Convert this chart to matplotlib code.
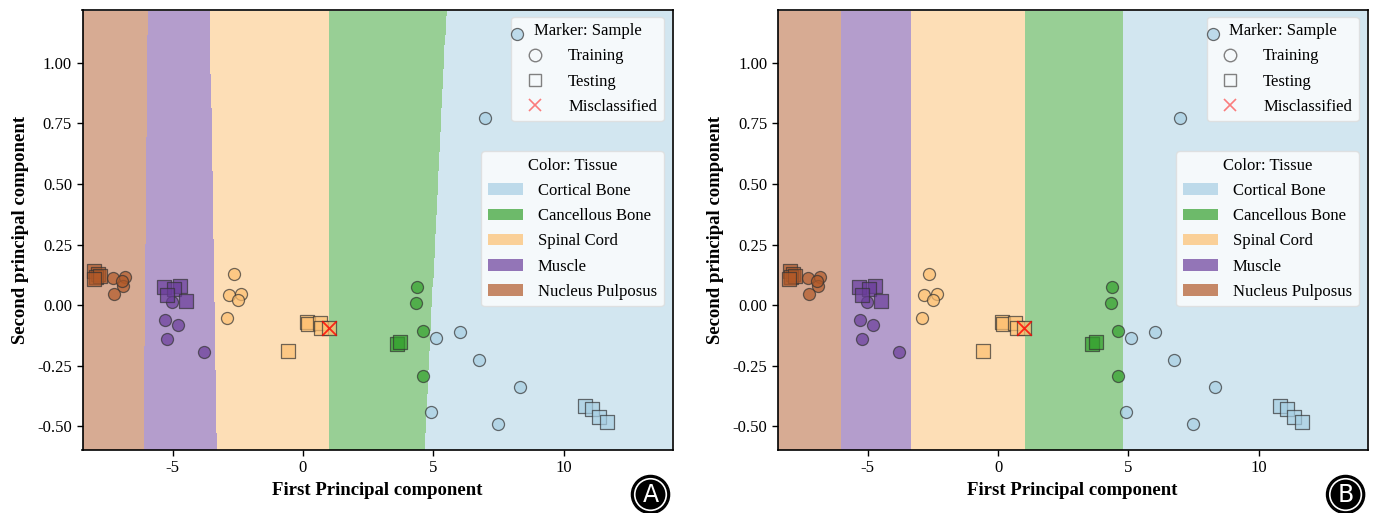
import numpy as np
import matplotlib
matplotlib.use("Agg")
import matplotlib.pyplot as plt
from matplotlib.colors import ListedColormap
from matplotlib.lines import Line2D
from matplotlib.patches import Patch

plt.rcParams['font.family'] = ['Liberation Serif', 'DejaVu Serif']
plt.rcParams['axes.unicode_minus'] = False

# tissues, left to right in PC1
tissues = ['Nucleus Pulposus', 'Muscle', 'Spinal Cord', 'Cancellous Bone', 'Cortical Bone']
colors = ['#b15928', '#6a3d9a', '#fdbf6f', '#33a02c', '#a6cee3']
legend_order = ['Cortical Bone', 'Cancellous Bone', 'Spinal Cord', 'Muscle', 'Nucleus Pulposus']

# training samples (PC1, PC2) per tissue
train_x = {
    'Nucleus Pulposus': [-7.30, -6.83, -6.92, -7.25, -6.95],
    'Muscle': [-5.03, -5.28, -4.79, -5.23, -3.81],
    'Spinal Cord': [-2.63, -2.85, -2.36, -2.50, -2.93],
    'Cancellous Bone': [4.38, 4.32, 4.62, 4.59],
    'Cortical Bone': [8.23, 6.98, 5.09, 6.02, 6.76, 8.31, 4.91, 7.47],
}
train_y = {
    'Nucleus Pulposus': [0.114, 0.117, 0.080, 0.045, 0.100],
    'Muscle': [0.014, -0.059, -0.082, -0.141, -0.192],
    'Spinal Cord': [0.130, 0.043, 0.048, 0.021, -0.052],
    'Cancellous Bone': [0.073, 0.007, -0.107, -0.291],
    'Cortical Bone': [1.118, 0.771, -0.137, -0.110, -0.224, -0.337, -0.440, -0.488],
}
# testing samples
test_x = {
    'Nucleus Pulposus': [-8.00, -7.85, -7.95, -7.80, -8.02],
    'Muscle': [-5.33, -4.72, -4.94, -5.23, -4.49],
    'Spinal Cord': [0.17, 0.20, 0.67, 0.71, 1.01, -0.56],
    'Cancellous Bone': [3.61, 3.74],
    'Cortical Bone': [10.83, 11.08, 11.34, 11.67],
}
test_y = {
    'Nucleus Pulposus': [0.140, 0.130, 0.115, 0.120, 0.110],
    'Muscle': [0.073, 0.078, 0.066, 0.041, 0.016],
    'Spinal Cord': [-0.069, -0.078, -0.073, -0.092, -0.096, -0.189],
    'Cancellous Bone': [-0.160, -0.151],
    'Cortical Bone': [-0.416, -0.429, -0.460, -0.480],
}
miscls_x = [1.01]
miscls_y = [-0.096]

xlim = (-8.46, 14.18)
ylim = (-0.597, 1.217)

# decision boundaries: PC1 position at bottom and top of the plot
bounds_A_bottom = [-6.12, -3.31, 1.01, 4.67]
bounds_A_top = [-5.95, -3.58, 1.01, 5.51]
bounds_B_bottom = [-6.04, -3.36, 1.03, 4.80]
bounds_B_top = [-6.04, -3.36, 1.03, 4.80]

fig = plt.figure(figsize=(13.75, 5.13), dpi=100)
axA = fig.add_axes([0.0600, 0.1228, 0.4291, 0.8577])
axB = fig.add_axes([0.5655, 0.1228, 0.4291, 0.8577])

cmap = ListedColormap(colors)
xs = np.arange(xlim[0], xlim[1], 0.02)
ys = np.arange(ylim[0], ylim[1], 0.02)
XX, YY = np.meshgrid(xs, ys)


def draw(ax, b_bot, b_top, tag):
    frac = (YY - ylim[0]) / (ylim[1] - ylim[0])
    cls = np.zeros_like(XX)
    for lo, hi in zip(b_bot, b_top):
        cls += XX > (lo + (hi - lo) * frac)
    ax.pcolormesh(XX, YY, cls, cmap=cmap, vmin=-0.5, vmax=4.5, alpha=0.5,
                  shading='auto', rasterized=True)

    for t, c in zip(tissues, colors):
        ax.scatter(train_x[t], train_y[t], s=75, marker='o', color=c, alpha=0.7,
                   edgecolors='#333333', linewidths=0.9, zorder=6)
        ax.scatter(test_x[t], test_y[t], s=95, marker='s', color=c, alpha=0.7,
                   edgecolors='#333333', linewidths=0.9, zorder=6)
    ax.scatter(miscls_x, miscls_y, s=110, marker='x', color='red', alpha=0.8,
               linewidths=1.3, zorder=7)

    ax.set_xlim(*xlim)
    ax.set_ylim(*ylim)
    ax.set_xticks([-5, 0, 5, 10])
    ax.set_yticks([-0.5, -0.25, 0, 0.25, 0.5, 0.75, 1.0])
    ax.set_yticklabels(['-0.50', '-0.25', '0.00', '0.25', '0.50', '0.75', '1.00'])
    ax.tick_params(labelsize=12, length=4, width=1)
    for s in ax.spines.values():
        s.set_linewidth(1.2)
    ax.set_xlabel('First Principal component', fontsize=13.5, fontweight='bold', labelpad=4)
    ax.set_ylabel('Second principal component', fontsize=13.5, fontweight='bold', labelpad=6)

    mk_handles = [
        Line2D([], [], marker='o', ls='none', mfc='none', mec='gray', ms=9, label='Training'),
        Line2D([], [], marker='s', ls='none', mfc='none', mec='gray', ms=9, label='Testing'),
        Line2D([], [], marker='x', ls='none', color='red', alpha=0.5, ms=9, mew=1.2,
               label='Misclassified'),
    ]
    leg1 = ax.legend(handles=mk_handles, title='Marker: Sample', loc='upper right',
                     bbox_to_anchor=(0.985, 0.985),
                     fontsize=12, title_fontsize=12, framealpha=0.8, edgecolor='#dddddd',
                     borderaxespad=0.0, handletextpad=1.0, labelspacing=0.55)
    ax.add_artist(leg1)

    col_handles = [Patch(facecolor=colors[tissues.index(t)], alpha=0.7, label=t)
                   for t in legend_order]
    ax.legend(handles=col_handles, title='Color: Tissue', loc='upper right',
              bbox_to_anchor=(0.985, 0.679), borderaxespad=0.0, fontsize=12,
              title_fontsize=12, framealpha=0.8, edgecolor='#dddddd', handlelength=2.1,
              handletextpad=0.9, labelspacing=0.55)

    # panel badge: black disc with a thin white ring
    pos = ax.get_position()
    bx = pos.x1 - 0.016
    fig.text(bx, 0.036, tag, fontsize=17, color='black', family='DejaVu Sans',
             ha='center', va='center',
             bbox=dict(boxstyle='circle,pad=0.3', fc='black', ec='black', lw=1))
    fig.text(bx, 0.036, tag, fontsize=17, color='white', family='DejaVu Sans',
             ha='center', va='center',
             bbox=dict(boxstyle='circle,pad=0.16', fc='black', ec='white', lw=1.2))


draw(axA, bounds_A_bottom, bounds_A_top, 'A')
draw(axB, bounds_B_bottom, bounds_B_top, 'B')

fig.savefig('out.png', dpi=100)
